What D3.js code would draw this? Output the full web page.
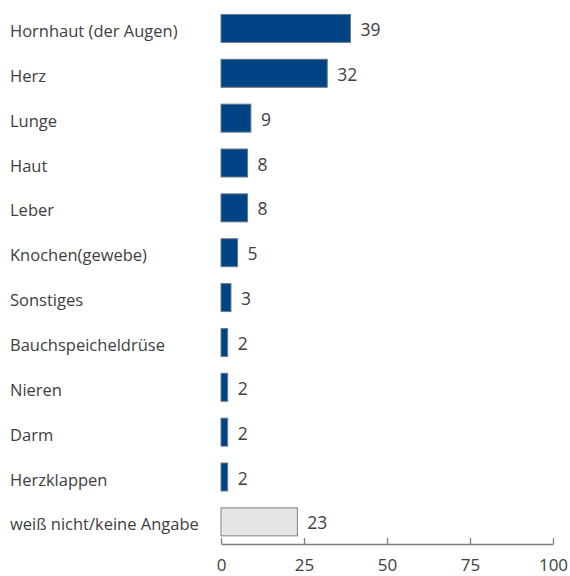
<!DOCTYPE html>
<html><head><meta charset="utf-8">
<script src="https://cdn.jsdelivr.net/npm/d3@7"></script>
<style>body{margin:0;background:#fff;} svg{display:block;font-family:"Open Sans",sans-serif;}</style>
</head><body>
<svg id="c" width="570" height="576"></svg>
<script>
const categories = ["Hornhaut (der Augen)","Herz","Lunge","Haut","Leber","Knochen(gewebe)","Sonstiges","Bauchspeicheldrüse","Nieren","Darm","Herzklappen","weiß nicht/keine Angabe"];
const values = [39,32,9,8,8,5,3,2,2,2,2,23];
const tickValues = [0,25,50,75,100];

const svg = d3.select("#c");
const x = d3.scaleLinear().domain([0,100]).range([221,553]);
const y = d3.scaleBand().domain(categories).range([6,544.3]).paddingInner(0.376).paddingOuter(0.188);
const textColor = "#404040";

svg.selectAll("rect.bar").data(categories).enter().append("rect")
  .attr("x", x(0))
  .attr("y", d => y(d))
  .attr("width", (d,i) => x(values[i]) - x(0))
  .attr("height", y.bandwidth())
  .attr("fill", (d,i) => i === categories.length-1 ? "#e6e6e6" : "#004385")
  .attr("stroke", (d,i) => i === categories.length-1 ? "#7f7f7f" : "#6a7a8a")
  .attr("stroke-width", 1);

svg.selectAll("text.val").data(categories).enter().append("text")
  .attr("x", (d,i) => x(values[i]) + 10)
  .attr("y", d => y(d) + y.bandwidth()/2 + 7.5)
  .attr("font-size", 17.5)
  .attr("fill", textColor)
  .text((d,i) => values[i]);

svg.selectAll("text.cat").data(categories).enter().append("text")
  .attr("x", 10)
  .attr("y", d => y(d) + y.bandwidth()/2 + 8.5)
  .attr("font-size", 16.5)
  .attr("fill", textColor)
  .text(d => d);

const axis = d3.axisBottom(x).tickValues(tickValues).tickSize(0).tickPadding(0);
const g = svg.append("g").attr("transform","translate(0,544)").call(axis);
g.select(".domain").attr("stroke","#7f7f7f").attr("stroke-width",1.3);
g.selectAll(".tick line").attr("y2",-6).attr("stroke","#7f7f7f").attr("stroke-width",1.3);
g.selectAll(".tick text").attr("font-size",17).attr("fill",textColor)
  .attr("font-family","'Open Sans',sans-serif").attr("dy",null).attr("y",27);
</script>
</body></html>
